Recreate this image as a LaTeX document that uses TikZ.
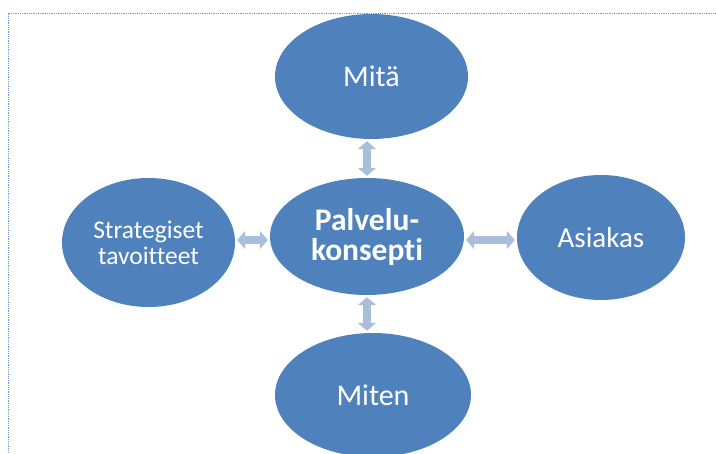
\documentclass[tikz,border=0pt]{standalone}
\usepackage{fontspec}
\setmainfont{Carlito}[Ligatures={NoCommon}]
\usepackage{tikz}
\usetikzlibrary{shapes.geometric, arrows.meta}

\begin{document}
\begin{tikzpicture}[x=1pt, y=-1pt,
    bubble/.style={ellipse, fill=officeblue, text=white, inner sep=0pt, align=center},
    link/.style={draw=linkblue, line width=8pt, {Triangle[length=8pt,width=18pt]}-{Triangle[length=8pt,width=18pt]}, shorten <=2pt, shorten >=2pt}]
  \definecolor{officeblue}{RGB}{79,129,189}
  \definecolor{linkblue}{RGB}{168,190,220}
  \useasboundingbox (0,0) rectangle (716,454);
  % frame
  \draw[officeblue!80, line width=0.7pt, dash pattern=on 1pt off 0.8pt] (8,460) -- (8,13) -- (720,13);
  % bubbles
  \node[bubble, minimum width=193pt, minimum height=125pt, font=\fontsize{30}{32}\selectfont] (mita) at (371.5,76.5) {Mitä};
  \node[bubble, minimum width=194pt, minimum height=117pt, font=\fontsize{31.5}{30}\selectfont\bfseries] (palvelu) at (367,236.5) {Palvelu-\\konsepti};
  \node[bubble, minimum width=173pt, minimum height=129pt, font=\fontsize{25.5}{26}\selectfont] (strat) at (148.5,242.5) {Strategiset\\tavoitteet};
  \node[bubble, minimum width=168pt, minimum height=125pt, font=\fontsize{29}{30}\selectfont] (asiakas) at (601,237.5) {Asiakas};
  \node[bubble, minimum width=196pt, minimum height=124pt, font=\fontsize{30}{32}\selectfont] (miten) at (373,395) {Miten};
  % links
  \draw[link] (mita.south -| palvelu.north) -- (palvelu.north);
  \draw[link] (palvelu.south) -- (palvelu.south |- miten.north);
  \draw[link] (strat.east |- 0,240) -- (palvelu.west |- 0,240);
  \draw[link] (palvelu.east |- 0,240) -- (asiakas.west |- 0,240);
\end{tikzpicture}
\end{document}
